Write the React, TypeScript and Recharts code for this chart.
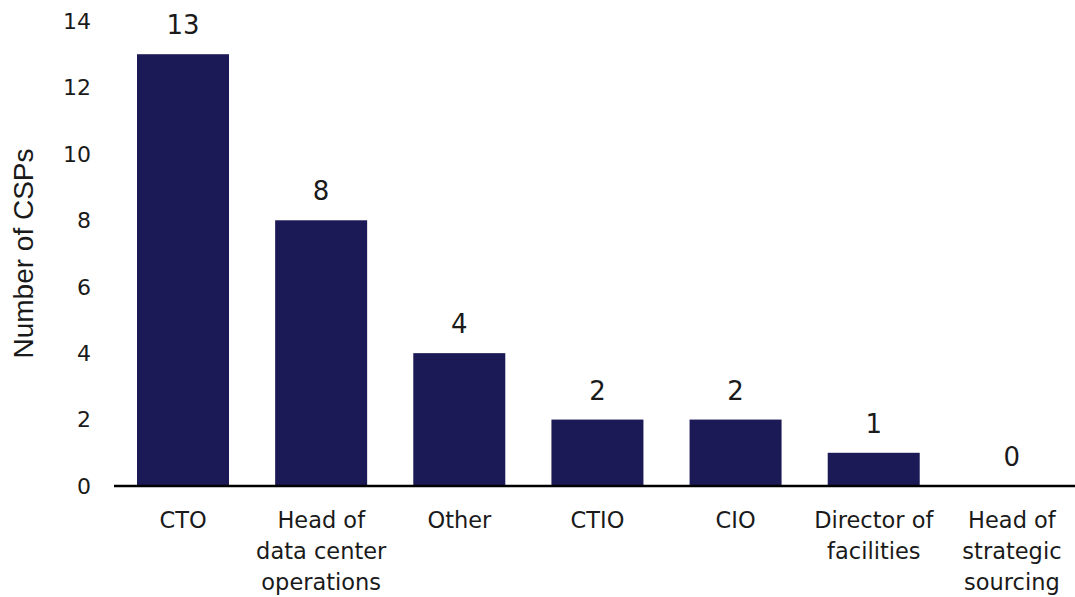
import React from "react";
import { BarChart, Bar, XAxis, YAxis, Label } from "recharts";

const roles = [
  "CTO",
  "Head of\ndata center\noperations",
  "Other",
  "CTIO",
  "CIO",
  "Director of\nfacilities",
  "Head of\nstrategic\nsourcing",
];
const cspCounts = [13, 8, 4, 2, 2, 1, 0];
const yTicks = [0, 2, 4, 6, 8, 10, 12, 14];

const FONT = '"DejaVu Sans", Verdana, sans-serif';
const LABEL_FONT = '"Liberation Sans", Arial, sans-serif';
const TEXT = "#1a1a1a";
const BAR = "#1c1a56";

const chartData = roles.map((r, i) => ({ role: r, count: cspCounts[i] }));

// category labels break over several lines
function RoleTick(props: any) {
  const { x, y, payload } = props;
  const lines = String(payload.value).split("\n");
  return (
    <g transform={`translate(${x},${y})`}>
      {lines.map((line, i) => (
        <text
          key={i}
          x={0}
          y={34 + i * 31}
          textAnchor="middle"
          fill={TEXT}
          fontSize={22.5}
          fontFamily={FONT}
        >
          {line}
        </text>
      ))}
    </g>
  );
}

// bar plus its value; LabelList drops the zero bar, so the label lives here
function BarWithValue(props: any) {
  const { x, y, width, height, fill, payload } = props;
  return (
    <g>
      {height > 0 && <rect x={x} y={y} width={width} height={height} fill={fill} />}
      <text
        x={x + width / 2}
        y={y - 20}
        textAnchor="middle"
        fill={TEXT}
        fontSize={26}
        fontFamily={FONT}
      >
        {payload.count}
      </text>
    </g>
  );
}

export default function App() {
  return (
    <div style={{ position: "absolute", left: 0, top: 0, width: 1075, height: 597, overflow: "hidden", background: "#fff" }}>
      <BarChart
        width={1081}
        height={597}
        data={chartData}
        margin={{ top: 21, right: 0, left: 0, bottom: 0 }}
        barSize={92}
      >
        <XAxis
          dataKey="role"
          height={111}
          interval={0}
          tickLine={false}
          axisLine={{ stroke: "#000", strokeWidth: 2.5 }}
          tick={<RoleTick />}
        />
        <YAxis
          width={114}
          domain={[0, 14]}
          ticks={yTicks}
          axisLine={false}
          tickLine={false}
          tickMargin={17}
          tick={{ fill: TEXT, fontSize: 22, fontFamily: FONT }}
        >
          <Label
            content={(p: any) => {
              const vb = p.viewBox;
              const cx = vb.x + 23;
              const cy = vb.y + vb.height / 2;
              return (
                <text
                  x={cx}
                  y={cy}
                  transform={`rotate(-90, ${cx}, ${cy})`}
                  textAnchor="middle"
                  dominantBaseline="central"
                  fill={TEXT}
                  fontSize={28}
                  fontFamily={LABEL_FONT}
                >
                  Number of CSPs
                </text>
              );
            }}
          />
        </YAxis>
        <Bar dataKey="count" fill={BAR} isAnimationActive={false} shape={<BarWithValue />} />
      </BarChart>
    </div>
  );
}
